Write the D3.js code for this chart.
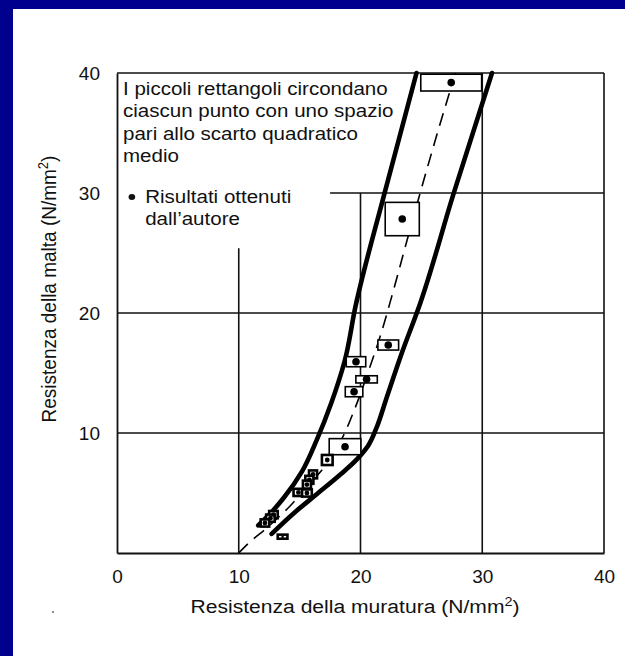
<!DOCTYPE html>
<html lang="it">

<head>
    <meta charset="UTF-8" />
    <title>Resistenza malta / muratura</title>
    <script src="https://d3js.org/d3.v7.js"></script>
    <style>
        body { margin: 0; background: #fff; }
        text { font-family: "Liberation Sans", Arial, Helvetica, sans-serif; fill: #111; }
    </style>
</head>

<body>
    <svg id="chart"></svg>
</body>

<script>
    // upper (left) boundary curve, [muratura, malta]
    var leftCurve = [[11.6, 2.3], [12.6, 3.3], [13.7, 4.6], [15.2, 6.8], [16.4, 9.4], [17.6, 12.5],
        [18.7, 16.0], [19.6, 20.6], [21.9, 29.7], [24.6, 40]];
    // lower (right) boundary curve
    var rightCurve = [[12.7, 1.6], [14.5, 3.3], [16.4, 4.9], [18.3, 6.5], [19.7, 7.8], [20.6, 8.9],
        [21.3, 10.4], [22.1, 12.8], [23.3, 16.4], [24.9, 20.8], [27.6, 29.8], [30.8, 40]];
    // dashed mean curve
    var meanCurve = [[10, 0], [11, 1], [12.2, 2], [14.2, 3.9], [15.6, 5.5], [17.2, 7.4], [18.5, 9.6],
        [19.6, 12.2], [20.6, 15], [21.6, 18], [22.6, 21.5], [23.7, 25.6], [24.9, 30], [26.2, 34.6],
        [27.5, 39], [27.8, 40]];

    // results: x, y, half width and half height of the scatter rectangle
    var pointsX = [27.45, 23.43, 22.28, 19.63, 20.5, 19.47, 18.73, 17.27, 16.1, 15.8, 15.6, 14.9, 15.6, 12.85, 12.6, 12.15, 13.6];
    var pointsY = [39.2, 27.83, 17.33, 15.94, 14.47, 13.44, 8.86, 7.75, 6.55, 6.1, 5.7, 5.05, 5.0, 3.2, 2.9, 2.5, 1.36];
    var rectDx = [2.5, 1.4, 0.85, 0.8, 0.88, 0.72, 1.3, 0.44, 0.33, 0.33, 0.33, 0.4, 0.4, 0.35, 0.35, 0.35, 0.4];
    var rectDy = [0.7, 1.39, 0.42, 0.42, 0.3, 0.42, 0.67, 0.42, 0.33, 0.33, 0.33, 0.3, 0.3, 0.3, 0.3, 0.3, 0.17];

    var xTicks = [0, 10, 20, 30, 40];
    var yTicks = [10, 20, 30, 40];
    // grid pieces that are drawn (the scan has partial grid lines)
    var vGrid = [[10, 0, 25.4], [20, 0, 30], [30, 0, 40], [40, 0, 40]];
    var hGrid = [[10, 0, 40], [20, 0, 40], [30, 17.5, 40], [40, 0, 40]];

    var legendLines = ["I piccoli rettangoli circondano", "ciascun punto con uno spazio",
        "pari allo scarto quadratico", "medio"];
    var legendPoint = ["Risultati ottenuti", "dall\u2019autore"];

    var width = 625;
    var height = 656;
    var stretch = 1.11; // the scanned figure is a little wider than tall

    var svg = d3.select("#chart")
        .attr("width", width)
        .attr("height", height);

    // blue slide frame
    svg.append("rect").attr("x", 0).attr("y", 0).attr("width", width).attr("height", 9).attr("fill", "#00008f");
    svg.append("rect").attr("x", 0).attr("y", 0).attr("width", 13).attr("height", height).attr("fill", "#00008f");

    var x = d3.scaleLinear().domain([0, 40]).range([117, 604]);
    var y = d3.scaleLinear().domain([0, 40]).range([553, 73]);

    var g = svg.append("g");

    // grid
    g.selectAll(".vg").data(vGrid).enter().append("line")
        .attr("x1", d => x(d[0])).attr("x2", d => x(d[0]))
        .attr("y1", d => y(d[1])).attr("y2", d => y(d[2]))
        .attr("stroke", "#111").attr("stroke-width", 1.6);
    g.selectAll(".hg").data(hGrid).enter().append("line")
        .attr("x1", d => x(d[1])).attr("x2", d => x(d[2]))
        .attr("y1", d => y(d[0])).attr("y2", d => y(d[0]))
        .attr("stroke", "#111").attr("stroke-width", 1.6);

    // axes
    var xAxis = g.append("g")
        .attr("transform", `translate(0,${y(0)})`)
        .call(d3.axisBottom(x).tickValues(xTicks).tickSize(0).tickPadding(17));
    var yAxis = g.append("g")
        .attr("transform", `translate(${x(0)},0)`)
        .call(d3.axisLeft(y).tickValues(yTicks).tickSize(0).tickPadding(17));
    [xAxis, yAxis].forEach(a => {
        a.select(".domain").attr("stroke", "#111").attr("stroke-width", 1.8);
        a.selectAll("text").style("font-size", "19px")
            .style("font-family", "'Liberation Sans', Arial, sans-serif").attr("fill", "#111");
    });

    var line = d3.line().x(d => x(d[0])).y(d => y(d[1])).curve(d3.curveMonotoneY);

    g.append("path").datum(leftCurve).attr("d", line)
        .attr("fill", "none").attr("stroke", "#000").attr("stroke-width", 4.6).attr("stroke-linecap", "round");
    g.append("path").datum(rightCurve).attr("d", line)
        .attr("fill", "none").attr("stroke", "#000").attr("stroke-width", 4.6).attr("stroke-linecap", "round");
    g.append("path").datum(meanCurve).attr("d", line)
        .attr("fill", "none").attr("stroke", "#000").attr("stroke-width", 1.6)
        .attr("stroke-dasharray", "13,8");

    // points with their rectangles
    var idx = d3.range(pointsX.length);
    g.selectAll(".box").data(idx).enter().append("rect")
        .attr("x", i => x(pointsX[i] - rectDx[i]))
        .attr("y", i => y(pointsY[i] + rectDy[i]))
        .attr("width", i => x(pointsX[i] + rectDx[i]) - x(pointsX[i] - rectDx[i]))
        .attr("height", i => y(pointsY[i] - rectDy[i]) - y(pointsY[i] + rectDy[i]))
        .attr("fill", "#fff").attr("stroke", "#000")
        .attr("stroke-width", i => rectDx[i] < 0.5 ? 2.6 : 1.6);
    g.selectAll(".dot").data(idx).enter().append("circle")
        .attr("cx", i => x(pointsX[i]))
        .attr("cy", i => y(pointsY[i]))
        .attr("r", i => rectDx[i] < 0.5 ? (rectDy[i] < 0.2 ? 1.2 : 2.4) : 3.8)
        .attr("fill", "#000");

    // legend text
    var leg = g.append("g").attr("font-size", "18.5px")
        .attr("transform", `translate(123,0) scale(${stretch},1)`);
    leg.selectAll(".l1").data(legendLines).enter().append("text")
        .attr("x", 0).attr("y", (d, i) => 95 + i * 22.5)
        .text(d => d);
    leg.append("circle").attr("cx", 8).attr("cy", 197).attr("r", 3).attr("fill", "#111");
    leg.selectAll(".l2").data(legendPoint).enter().append("text")
        .attr("x", 20).attr("y", (d, i) => 203 + i * 22.5)
        .text(d => d);

    // axis titles
    var xt = g.append("text")
        .attr("transform", `translate(355,613) scale(${stretch},1)`)
        .attr("text-anchor", "middle").attr("font-size", "19px");
    xt.append("tspan").text("Resistenza della muratura (N/mm");
    xt.append("tspan").attr("dy", -7).attr("font-size", "13px").text("2");
    xt.append("tspan").attr("dy", 7).text(")");

    var yt = g.append("text")
        .attr("transform", "translate(56,289) scale(1.08,1) rotate(-90)")
        .attr("text-anchor", "middle").attr("font-size", "19px");
    yt.append("tspan").text("Resistenza della malta (N/mm");
    yt.append("tspan").attr("dy", -7).attr("font-size", "13px").text("2");
    yt.append("tspan").attr("dy", 7).text(")");

    // stray speck from the scan
    svg.append("circle").attr("cx", 53).attr("cy", 612).attr("r", 0.9).attr("fill", "#555");
</script>

</html>
